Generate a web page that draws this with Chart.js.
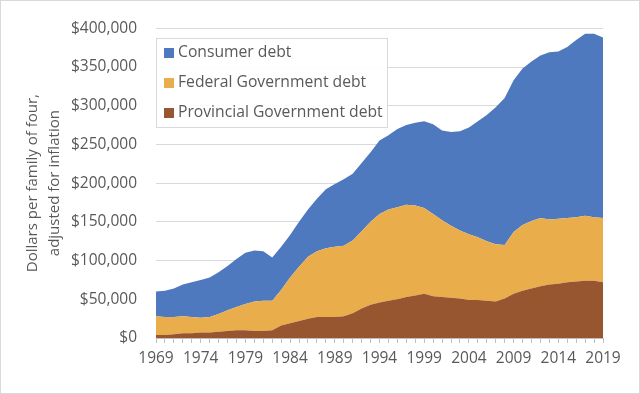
<!DOCTYPE html>
<html>
<head>
<meta charset="utf-8">
<script src="https://cdn.jsdelivr.net/npm/chart.js@4.4.1/dist/chart.umd.min.js"></script>
<style>
  html, body { margin: 0; padding: 0; background: #fff; }
  #wrap { width: 640px; height: 394px; position: relative; }
</style>
</head>
<body>
<div id="wrap"><canvas id="debtChart"></canvas></div>
<script>
// Years on the category axis
const years = [
    1969, 1970, 1971, 1972, 1973, 1974, 1975, 1976, 1977, 1978,
    1979, 1980, 1981, 1982, 1983, 1984, 1985, 1986, 1987, 1988,
    1989, 1990, 1991, 1992, 1993, 1994, 1995, 1996, 1997, 1998,
    1999, 2000, 2001, 2002, 2003, 2004, 2005, 2006, 2007, 2008,
    2009, 2010, 2011, 2012, 2013, 2014, 2015, 2016, 2017, 2018, 2019
];

// Debt per family of four, thousands of dollars
const provincialDebt = [
    4, 4, 5, 6, 6, 7, 7, 8, 9, 10,
    10, 9, 9, 10, 16, 19, 22, 25, 27, 27,
    27, 28, 32, 38, 43, 46, 48, 50, 53, 55,
    57, 54, 53, 52, 51, 49, 49, 48, 47, 51,
    57, 61, 64, 67, 69, 70, 72, 73, 74, 74, 72
];
const federalDebt = [
    24, 23, 22, 22, 21, 19, 20, 23, 27, 30,
    34, 38, 39, 38, 46, 59, 70, 80, 85, 89,
    91, 91, 94, 100, 107, 114, 118, 119, 119, 116,
    111, 106, 99, 93, 88, 85, 81, 77, 74, 69,
    80, 85, 87, 88, 84, 84, 83, 83, 84, 82, 83
];
const consumerDebt = [
    32, 34, 37, 41, 45, 49, 51, 54, 57, 62,
    66, 66, 64, 56, 56, 55, 58, 61, 68, 76,
    81, 86, 86, 88, 90, 95, 96, 101, 103, 107,
    112, 116, 116, 121, 128, 138, 150, 163, 177, 190,
    196, 202, 206, 210, 216, 216, 221, 229, 235, 237, 233
];

// Y axis ticks, dollars
const yTicks = [0, 50000, 100000, 150000, 200000, 250000, 300000, 350000, 400000];

const textColor = '#595959';
const fontFamily = '"Open Sans", "Noto Sans", sans-serif';

// Frame around the whole picture
const framePlugin = {
    id: 'frame',
    beforeDraw(chart) {
        const ctx = chart.ctx;
        ctx.save();
        ctx.fillStyle = '#ffffff';
        ctx.fillRect(0, 0, chart.width, chart.height);
        ctx.strokeStyle = '#d9d9d9';
        ctx.lineWidth = 1;
        ctx.strokeRect(0.5, 0.5, chart.width - 1, chart.height - 1);
        ctx.restore();
    }
};

// Legend drawn as a box inside the plot area, top-left
const boxLegendPlugin = {
    id: 'boxLegend',
    afterDraw(chart) {
        const ctx = chart.ctx;
        const area = chart.chartArea;
        const x = area.left, y = 38, w = 232, h = 90;
        ctx.save();
        ctx.fillStyle = 'rgba(255,255,255,0.92)';
        ctx.fillRect(x, y, w, h);
        ctx.strokeStyle = '#d9d9d9';
        ctx.lineWidth = 1;
        ctx.strokeRect(x + 0.5, y + 0.5, w - 1, h - 1);
        ctx.font = '15.7px ' + fontFamily;
        ctx.textBaseline = 'middle';
        const items = chart.data.datasets.slice().reverse();
        items.forEach((ds, i) => {
            const cy = y + 15 + i * 30;
            ctx.fillStyle = ds.backgroundColor;
            ctx.fillRect(x + 8, cy - 5, 10, 10);
            ctx.fillStyle = textColor;
            ctx.fillText(ds.label, x + 22, cy);
        });
        ctx.restore();
    }
};

const toDollars = arr => arr.map(v => v * 1000);

new Chart(document.getElementById('debtChart'), {
    type: 'line',
    data: {
        labels: years,
        datasets: [
            {
                label: 'Provincial Government debt',
                data: toDollars(provincialDebt),
                backgroundColor: '#985630',
                borderWidth: 0,
                pointRadius: 0,
                fill: 'origin'
            },
            {
                label: 'Federal Government debt',
                data: toDollars(federalDebt),
                backgroundColor: '#e9ae4b',
                borderWidth: 0,
                pointRadius: 0,
                fill: '-1'
            },
            {
                label: 'Consumer debt',
                data: toDollars(consumerDebt),
                backgroundColor: '#4e79bf',
                borderWidth: 0,
                pointRadius: 0,
                fill: '-1'
            }
        ]
    },
    options: {
        responsive: true,
        maintainAspectRatio: false,
        animation: false,
        layout: {
            padding: { top: 28, right: 37, bottom: 0, left: 0 }
        },
        plugins: {
            legend: { display: false },
            tooltip: { enabled: false }
        },
        elements: {
            line: { tension: 0 }
        },
        scales: {
            x: {
                type: 'category',
                offset: false,
                grid: {
                    display: true,
                    drawOnChartArea: false,
                    drawTicks: true,
                    tickLength: 5,
                    color: '#bfbfbf'
                },
                border: { display: true, color: '#bfbfbf' },
                ticks: {
                    autoSkip: false,
                    maxRotation: 0,
                    padding: 6,
                    color: textColor,
                    font: { family: fontFamily, size: 15.5 },
                    callback: function(value, index) {
                        return index % 5 === 0 ? String(years[index]) : '';
                    }
                },
                afterFit(scale) { scale.height = 56; }
            },
            y: {
                stacked: true,
                min: 0,
                max: 400000,
                afterBuildTicks(scale) {
                    scale.ticks = yTicks.map(v => ({ value: v }));
                },
                grid: {
                    color: '#d9d9d9',
                    drawTicks: false
                },
                border: { display: false },
                ticks: {
                    padding: 19,
                    color: textColor,
                    font: { family: fontFamily, size: 15.5 },
                    callback: value => '$' + value.toLocaleString('en-US')
                },
                title: {
                    display: true,
                    text: ['Dollars per family of four,', 'adjusted for inflation'],
                    color: textColor,
                    font: { family: fontFamily, size: 15, lineHeight: 1.47 },
                    padding: { top: 22, bottom: 0 }
                },
                afterFit(scale) { scale.width = 156; }
            }
        }
    },
    plugins: [framePlugin, boxLegendPlugin]
});
</script>
</body>
</html>
